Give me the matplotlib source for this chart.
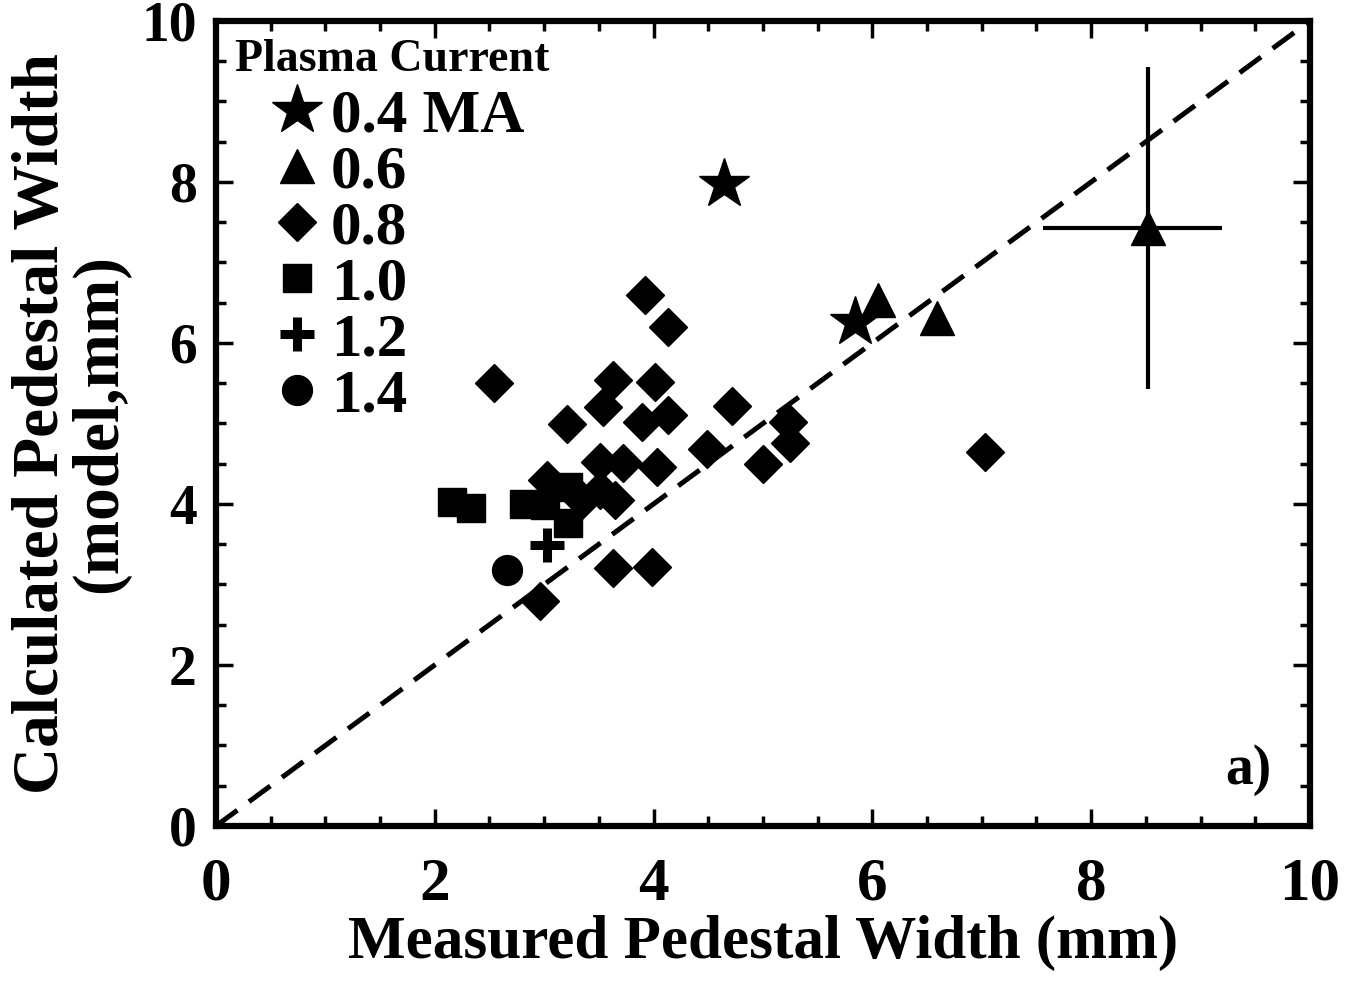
import numpy as np
import matplotlib.pyplot as plt
from matplotlib.ticker import MultipleLocator

# plasma current 0.4 MA
star_x = [4.64, 5.84]
star_y = [7.97, 6.26]
# 0.6 MA (last one carries the error bars)
tri_x = [6.05, 6.59, 8.52]
tri_y = [6.53, 6.31, 7.43]
err_x_lo, err_x_hi = 0.96, 0.68
err_y = 2.0
# 0.8 MA
dia_x = [2.54, 2.96, 3.21, 3.54, 3.63, 3.92, 4.13, 4.01, 3.89, 4.13,
         4.72, 5.23, 5.25, 5.00, 4.49, 3.51, 3.72, 4.03, 3.51, 3.65,
         3.63, 3.99, 7.03, 3.03, 3.35]
dia_y = [5.50, 2.80, 4.99, 5.20, 5.54, 6.60, 6.20, 5.52, 5.02, 5.11,
         5.22, 5.02, 4.76, 4.50, 4.68, 4.52, 4.51, 4.46, 4.17, 4.05,
         3.20, 3.22, 4.65, 4.30, 4.05]
# 1.0 MA
sq_x = [2.16, 2.33, 2.82, 3.01, 3.22, 3.22]
sq_y = [4.02, 3.95, 4.00, 3.99, 4.21, 3.76]
# 1.2 MA
plus_x = [3.03]
plus_y = [3.49]
# 1.4 MA
circ_x = [2.66]
circ_y = [3.18]

labels = ["0.4 MA", "0.6", "0.8", "1.0", "1.2", "1.4"]

plt.rcParams["font.family"] = ["Liberation Serif", "DejaVu Serif"]
plt.rcParams["font.weight"] = "bold"
plt.rcParams["axes.labelweight"] = "bold"

fig = plt.figure(figsize=(13.48, 9.84), dpi=100)
ax = fig.add_axes([0.1602, 0.1606, 0.8116, 0.8181])

ax.plot([0, 10], [0, 10], color="black", lw=3.6, dashes=[5.3, 2.9])

k = dict(color="black", linestyle="none")
ax.plot(star_x, star_y, marker="*", ms=38, label=labels[0], **k)
ax.plot(tri_x, tri_y, marker="^", ms=24, label=labels[1], **k)
ax.errorbar(tri_x[-1:], tri_y[-1:], xerr=[[err_x_lo], [err_x_hi]],
            yerr=err_y, fmt="none", ecolor="black", elinewidth=3, capsize=0)
ax.plot(dia_x, dia_y, marker="D", ms=19, label=labels[2], **k)
ax.plot(sq_x, sq_y, marker="s", ms=20, label=labels[3], **k)
ax.plot(plus_x, plus_y, marker="+", ms=24, mew=6.5, label=labels[4], **k)
ax.plot(circ_x, circ_y, marker="o", ms=21.5, label=labels[5], **k)

ax.set_xlim(0, 10)
ax.set_ylim(0, 10)
ax.xaxis.set_major_locator(MultipleLocator(2))
ax.xaxis.set_minor_locator(MultipleLocator(0.5))
ax.yaxis.set_major_locator(MultipleLocator(2))
ax.yaxis.set_minor_locator(MultipleLocator(0.5))
ax.tick_params(which="both", direction="in", top=True, right=True, width=2.5)
ax.tick_params(which="major", length=12)
ax.tick_params(which="minor", length=7)
ax.tick_params(axis="x", labelsize=44, pad=22)
ax.tick_params(axis="y", labelsize=40, pad=14)
for s in ax.spines.values():
    s.set_linewidth(4.5)

ax.set_xlabel("Measured Pedestal Width (mm)", fontsize=44, labelpad=2)
ax.set_ylabel("Calculated Pedestal Width\n(model,mm)", fontsize=47,
              labelpad=8, linespacing=0.95)

ax.text(0.965, 0.07, "a)", transform=ax.transAxes, fontsize=40,
        ha="right", va="center")

# legend title drawn on its own so the markers can sit further right
ax.text(0.017, 0.952, "Plasma Current", transform=ax.transAxes,
        fontsize=33, ha="left", va="center")
leg = ax.legend(loc="upper left", bbox_to_anchor=(0.052, 0.916),
                frameon=False, fontsize=44, borderpad=0, borderaxespad=0,
                handlelength=0.8, handletextpad=0.15, labelspacing=0.0,
                numpoints=1)

fig.savefig("out.png", dpi=100)
